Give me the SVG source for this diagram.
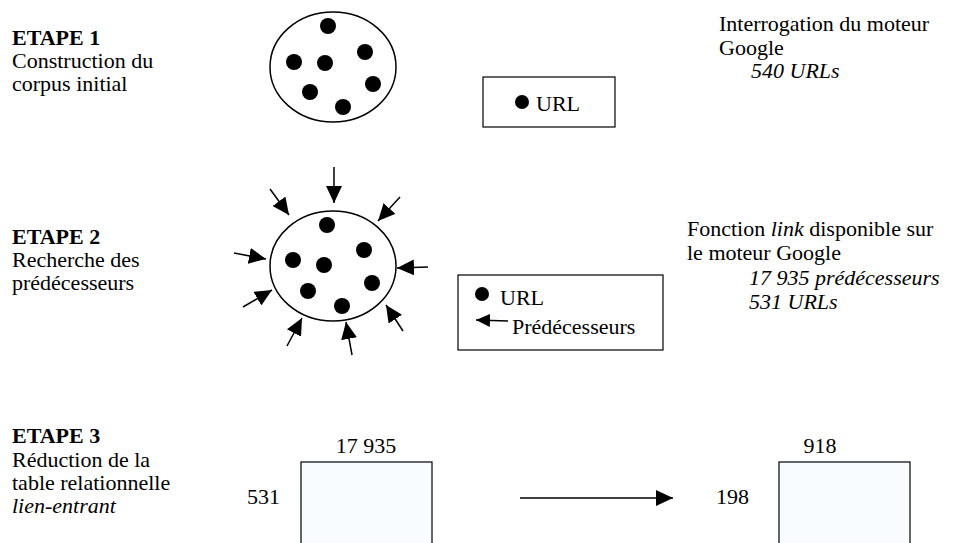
<svg xmlns="http://www.w3.org/2000/svg" width="960" height="543" viewBox="0 0 960 543" font-family="'Liberation Serif', 'DejaVu Serif', serif">
<defs>
<marker id="ah" markerUnits="userSpaceOnUse" markerWidth="18" markerHeight="16" refX="17" refY="8" orient="auto">
<path d="M0,0 L17,8 L0,16 z" fill="#000"/>
</marker>
<marker id="ahs" markerUnits="userSpaceOnUse" markerWidth="15" markerHeight="13" refX="14" refY="6.5" orient="auto">
<path d="M0,0 L14,6.5 L0,13 z" fill="#000"/>
</marker>
</defs>
<style>
text{font-family:'Liberation Serif','DejaVu Serif',serif;font-size:22px;fill:#000}
.b{font-weight:bold}
.i{font-style:italic}
.ell{fill:#fff;stroke:#000;stroke-width:1.5}
.dot{fill:#000}
.box{fill:#fff;stroke:#000;stroke-width:1.2}
.tbl{fill:#f8fcff;stroke:#000;stroke-width:1.2}
.arr{stroke:#000;stroke-width:1.5;fill:none;marker-end:url(#ah)}
</style>
<rect width="960" height="543" fill="#fff"/>

<g id="step1-label">
<text x="12" y="45" class="b">ETAPE 1</text>
<text x="12" y="68">Construction du</text>
<text x="12" y="91">corpus initial</text>
</g>
<g id="step2-label">
<text x="12" y="244" class="b">ETAPE 2</text>
<text x="12" y="267">Recherche des</text>
<text x="12" y="290">prédécesseurs</text>
</g>
<g id="step3-label">
<text x="12" y="443" class="b">ETAPE 3</text>
<text x="12" y="467">Réduction de la</text>
<text x="12" y="490">table relationnelle</text>
<text x="12" y="513" class="i">lien-entrant</text>
</g>

<g id="corpus1">
<ellipse class="ell" cx="333" cy="67" rx="63" ry="55"/>
<circle class="dot" cx="328" cy="26" r="8"/>
<circle class="dot" cx="365" cy="52" r="8"/>
<circle class="dot" cx="294" cy="62" r="8"/>
<circle class="dot" cx="325" cy="63" r="8"/>
<circle class="dot" cx="373" cy="84" r="8"/>
<circle class="dot" cx="310" cy="92" r="8"/>
<circle class="dot" cx="343" cy="107" r="8"/>
</g>

<g id="legend1">
<rect class="box" x="483" y="77" width="132" height="50"/>
<circle class="dot" cx="522" cy="102" r="7"/>
<text x="536" y="111">URL</text>
</g>

<g id="note1">
<text x="719" y="31">Interrogation du moteur</text>
<text x="719" y="55">Google</text>
<text x="751" y="78" class="i">540 URLs</text>
</g>

<g id="corpus2">
<ellipse class="ell" cx="333" cy="266" rx="63" ry="55"/>
<circle class="dot" cx="327" cy="225" r="8"/>
<circle class="dot" cx="364" cy="250" r="8"/>
<circle class="dot" cx="293" cy="260" r="8"/>
<circle class="dot" cx="324" cy="265" r="8"/>
<circle class="dot" cx="372" cy="283" r="8"/>
<circle class="dot" cx="308" cy="291" r="8"/>
<circle class="dot" cx="342" cy="306" r="8"/>
</g>

<g id="legend2">
<rect class="box" x="458" y="275" width="205" height="75"/>
<circle class="dot" cx="482" cy="294" r="7"/>
<text x="500" y="305">URL</text>
<line x1="508" y1="321" x2="476" y2="320" stroke="#000" stroke-width="1.5" marker-end="url(#ahs)"/>
<text x="512" y="334">Prédécesseurs</text>
</g>

<g id="note2">
<text x="687" y="236">Fonction <tspan class="i">link</tspan> disponible sur</text>
<text x="687" y="260">le moteur Google</text>
<text x="749" y="285" class="i">17 935 prédécesseurs</text>
<text x="749" y="309" class="i">531 URLs</text>
</g>

<g id="table1">
<rect class="tbl" x="301" y="462" width="131" height="100"/>
<text x="366" y="453" text-anchor="middle">17 935</text>
<text x="247" y="504">531</text>
</g>

<g id="table2">
<rect class="tbl" x="779" y="462" width="131" height="100"/>
<text x="820" y="453" text-anchor="middle">918</text>
<text x="716" y="504">198</text>
</g>

<g id="connectors">
<line class="arr" x1="334" y1="167" x2="334" y2="203"/>
<line class="arr" x1="270" y1="189" x2="289" y2="215"/>
<line class="arr" x1="400" y1="197" x2="378" y2="221"/>
<line class="arr" x1="234" y1="253" x2="266" y2="259"/>
<line class="arr" x1="428" y1="267" x2="397" y2="268"/>
<line class="arr" x1="243" y1="307" x2="272" y2="290"/>
<line class="arr" x1="403" y1="331" x2="386" y2="305"/>
<line class="arr" x1="287" y1="346" x2="302" y2="318"/>
<line class="arr" x1="352" y1="355" x2="346" y2="322"/>
<line class="arr" x1="520" y1="498" x2="673" y2="498"/>
</g>
</svg>
